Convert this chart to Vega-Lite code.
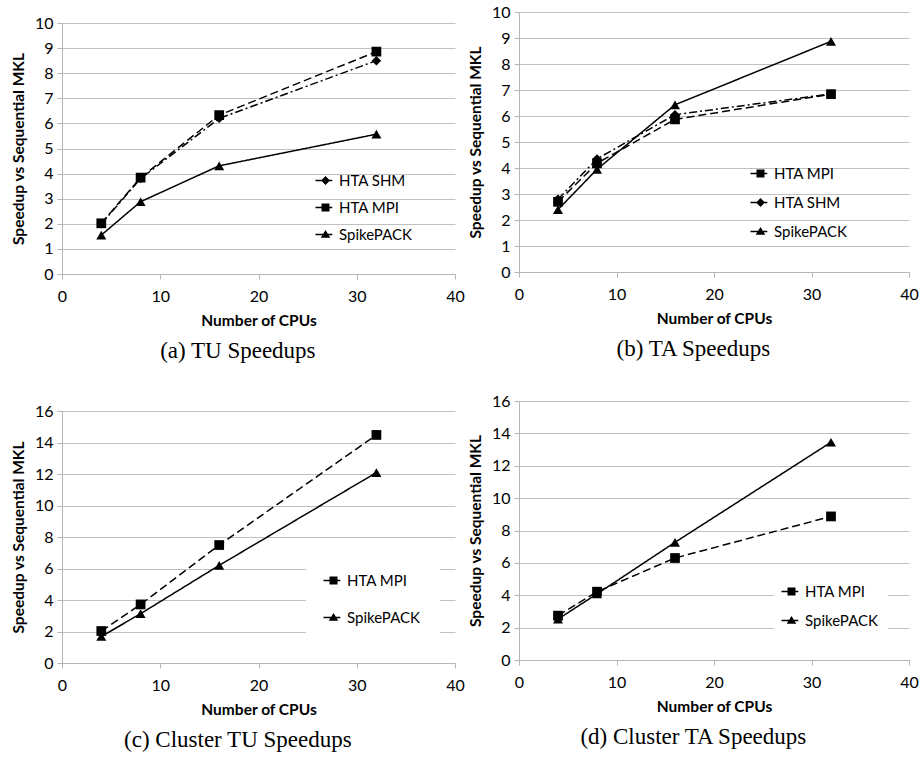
{
  "$schema": "https://vega.github.io/schema/vega-lite/v6.json",
  "padding": {"left": 11, "top": 4, "right": 0, "bottom": 0},
  "background": "white",
  "columns": 2,
  "spacing": {"column": 3, "row": 30},
  "concat": [
    {
      "width": 393, "height": 262,
      "title": {"text": "(a) TU Speedups"},
      "data": {"values": [
        {"series": "HTA SHM", "cpus": 4, "speedup": 2.0},
        {"series": "HTA SHM", "cpus": 8, "speedup": 3.8},
        {"series": "HTA SHM", "cpus": 16, "speedup": 6.2},
        {"series": "HTA SHM", "cpus": 32, "speedup": 8.5},
        {"series": "HTA MPI", "cpus": 4, "speedup": 2.02},
        {"series": "HTA MPI", "cpus": 8, "speedup": 3.84},
        {"series": "HTA MPI", "cpus": 16, "speedup": 6.33},
        {"series": "HTA MPI", "cpus": 32, "speedup": 8.86},
        {"series": "SpikePACK", "cpus": 4, "speedup": 1.55},
        {"series": "SpikePACK", "cpus": 8, "speedup": 2.88},
        {"series": "SpikePACK", "cpus": 16, "speedup": 4.31},
        {"series": "SpikePACK", "cpus": 32, "speedup": 5.57}
      ]},
      "encoding": {
        "x": {"field": "cpus", "type": "quantitative", "scale": {"domain": [0, 40]}, "axis": {"values": [0, 10, 20, 30, 40], "title": "Number of CPUs"}},
        "y": {"field": "speedup", "type": "quantitative", "scale": {"domain": [0, 10], "range": [262, 11]}, "axis": {"values": [0, 1, 2, 3, 4, 5, 6, 7, 8, 9, 10], "title": "Speedup vs Sequential MKL"}}
      },
      "layer": [
        {"mark": {"type": "line", "color": "black", "strokeWidth": 1.5},
         "encoding": {"strokeDash": {"field": "series", "type": "nominal", "scale": {"domain": ["HTA SHM", "HTA MPI", "SpikePACK"], "range": [[8, 3, 2, 3], [8, 4], [1, 0]]}, "legend": null}}},
        {"mark": {"type": "point", "filled": true, "color": "black", "opacity": 1},
         "encoding": {
           "shape": {"field": "series", "type": "nominal", "scale": {"domain": ["HTA SHM", "HTA MPI", "SpikePACK"], "range": ["diamond", "square", "triangle-up"]}, "legend": null},
           "size": {"field": "series", "type": "nominal", "scale": {"domain": ["HTA SHM", "HTA MPI", "SpikePACK"], "range": [90, 100, 110]}, "legend": null}}},
        {"transform": [{"filter": "false"}],
         "mark": {"type": "point", "filled": true, "color": "black"},
         "encoding": {
           "shape": {"field": "series", "type": "nominal", "scale": {"domain": ["HTA SHM", "HTA MPI", "SpikePACK"], "range": ["M-2.5,-0.18H1.7V0.18H-2.5ZM0,-1.1L1.1,0L0,1.1L-1.1,0Z", "M-2.5,-0.18H1.7V0.18H-2.5ZM-1,-1H1V1H-1Z", "M-2.5,-0.18H1.7V0.18H-2.5ZM0,-1.1L1.2,0.8H-1.2Z"]},
             "legend": {"legendX": 256, "legendY": 161, "padding": 0, "rowPadding": 11}}}}
      ],
      "resolve": {"scale": {"shape": "independent"}}
    },
    {
      "width": 390, "height": 260,
      "title": {"text": "(b) TA Speedups"},
      "data": {"values": [
        {"series": "HTA MPI", "cpus": 4, "speedup": 2.7},
        {"series": "HTA MPI", "cpus": 8, "speedup": 4.18},
        {"series": "HTA MPI", "cpus": 16, "speedup": 5.87},
        {"series": "HTA MPI", "cpus": 32, "speedup": 6.84},
        {"series": "HTA SHM", "cpus": 4, "speedup": 2.8},
        {"series": "HTA SHM", "cpus": 8, "speedup": 4.35},
        {"series": "HTA SHM", "cpus": 16, "speedup": 6.05},
        {"series": "HTA SHM", "cpus": 32, "speedup": 6.85},
        {"series": "SpikePACK", "cpus": 4, "speedup": 2.4},
        {"series": "SpikePACK", "cpus": 8, "speedup": 3.95},
        {"series": "SpikePACK", "cpus": 16, "speedup": 6.43},
        {"series": "SpikePACK", "cpus": 32, "speedup": 8.87}
      ]},
      "encoding": {
        "x": {"field": "cpus", "type": "quantitative", "scale": {"domain": [0, 40]}, "axis": {"values": [0, 10, 20, 30, 40], "title": "Number of CPUs"}},
        "y": {"field": "speedup", "type": "quantitative", "scale": {"domain": [0, 10]}, "axis": {"values": [0, 1, 2, 3, 4, 5, 6, 7, 8, 9, 10], "title": "Speedup vs Sequential MKL"}}
      },
      "layer": [
        {"mark": {"type": "line", "color": "black", "strokeWidth": 1.5},
         "encoding": {"strokeDash": {"field": "series", "type": "nominal", "scale": {"domain": ["HTA MPI", "HTA SHM", "SpikePACK"], "range": [[8, 4], [8, 3, 2, 3], [1, 0]]}, "legend": null}}},
        {"mark": {"type": "point", "filled": true, "color": "black", "opacity": 1},
         "encoding": {
           "shape": {"field": "series", "type": "nominal", "scale": {"domain": ["HTA MPI", "HTA SHM", "SpikePACK"], "range": ["square", "diamond", "triangle-up"]}, "legend": null},
           "size": {"field": "series", "type": "nominal", "scale": {"domain": ["HTA MPI", "HTA SHM", "SpikePACK"], "range": [100, 90, 110]}, "legend": null}}},
        {"transform": [{"filter": "false"}],
         "mark": {"type": "point", "filled": true, "color": "black"},
         "encoding": {
           "shape": {"field": "series", "type": "nominal", "scale": {"domain": ["HTA MPI", "HTA SHM", "SpikePACK"], "range": ["M-2.5,-0.18H1.7V0.18H-2.5ZM-1,-1H1V1H-1Z", "M-2.5,-0.18H1.7V0.18H-2.5ZM0,-1.1L1.1,0L0,1.1L-1.1,0Z", "M-2.5,-0.18H1.7V0.18H-2.5ZM0,-1.1L1.2,0.8H-1.2Z"]},
             "legend": {"legendX": 234, "legendY": 154, "padding": 0, "rowPadding": 13}}}}
      ],
      "resolve": {"scale": {"shape": "independent"}}
    },
    {
      "width": 393, "height": 262,
      "title": {"text": "(c) Cluster TU Speedups"},
      "data": {"values": [
        {"series": "HTA MPI", "cpus": 4, "speedup": 2.03},
        {"series": "HTA MPI", "cpus": 8, "speedup": 3.72},
        {"series": "HTA MPI", "cpus": 16, "speedup": 7.49},
        {"series": "HTA MPI", "cpus": 32, "speedup": 14.48},
        {"series": "SpikePACK", "cpus": 4, "speedup": 1.68},
        {"series": "SpikePACK", "cpus": 8, "speedup": 3.13},
        {"series": "SpikePACK", "cpus": 16, "speedup": 6.2},
        {"series": "SpikePACK", "cpus": 32, "speedup": 12.09}
      ]},
      "encoding": {
        "x": {"field": "cpus", "type": "quantitative", "scale": {"domain": [0, 40]}, "axis": {"values": [0, 10, 20, 30, 40], "title": "Number of CPUs"}},
        "y": {"field": "speedup", "type": "quantitative", "scale": {"domain": [0, 16], "range": [262, 10]}, "axis": {"values": [0, 2, 4, 6, 8, 10, 12, 14, 16], "title": "Speedup vs Sequential MKL"}}
      },
      "layer": [
        {"mark": {"type": "line", "color": "black", "strokeWidth": 1.5},
         "encoding": {"strokeDash": {"field": "series", "type": "nominal", "scale": {"domain": ["HTA MPI", "SpikePACK"], "range": [[8, 4], [1, 0]]}, "legend": null}}},
        {"mark": {"type": "point", "filled": true, "color": "black", "opacity": 1},
         "encoding": {
           "shape": {"field": "series", "type": "nominal", "scale": {"domain": ["HTA MPI", "SpikePACK"], "range": ["square", "triangle-up"]}, "legend": null},
           "size": {"field": "series", "type": "nominal", "scale": {"domain": ["HTA MPI", "SpikePACK"], "range": [100, 110]}, "legend": null}}},
        {"transform": [{"filter": "false"}],
         "mark": {"type": "point", "filled": true, "color": "black"},
         "encoding": {
           "shape": {"field": "series", "type": "nominal", "scale": {"domain": ["HTA MPI", "SpikePACK"], "range": ["M-2.5,-0.18H1.7V0.18H-2.5ZM-1,-1H1V1H-1Z", "M-2.5,-0.18H1.7V0.18H-2.5ZM0,-1.1L1.2,0.8H-1.2Z"]},
             "legend": {"legendX": 244, "legendY": 152, "padding": 20, "rowPadding": 21, "fillColor": "white"}}}}
      ],
      "resolve": {"scale": {"shape": "independent"}}
    },
    {
      "width": 390, "height": 259,
      "title": {"text": "(d) Cluster TA Speedups"},
      "data": {"values": [
        {"series": "HTA MPI", "cpus": 4, "speedup": 2.74},
        {"series": "HTA MPI", "cpus": 8, "speedup": 4.22},
        {"series": "HTA MPI", "cpus": 16, "speedup": 6.3},
        {"series": "HTA MPI", "cpus": 32, "speedup": 8.87},
        {"series": "SpikePACK", "cpus": 4, "speedup": 2.53},
        {"series": "SpikePACK", "cpus": 8, "speedup": 4.08},
        {"series": "SpikePACK", "cpus": 16, "speedup": 7.27},
        {"series": "SpikePACK", "cpus": 32, "speedup": 13.45}
      ]},
      "encoding": {
        "x": {"field": "cpus", "type": "quantitative", "scale": {"domain": [0, 40]}, "axis": {"values": [0, 10, 20, 30, 40], "title": "Number of CPUs"}},
        "y": {"field": "speedup", "type": "quantitative", "scale": {"domain": [0, 16]}, "axis": {"values": [0, 2, 4, 6, 8, 10, 12, 14, 16], "title": "Speedup vs Sequential MKL"}}
      },
      "layer": [
        {"mark": {"type": "line", "color": "black", "strokeWidth": 1.5},
         "encoding": {"strokeDash": {"field": "series", "type": "nominal", "scale": {"domain": ["HTA MPI", "SpikePACK"], "range": [[8, 4], [1, 0]]}, "legend": null}}},
        {"mark": {"type": "point", "filled": true, "color": "black", "opacity": 1},
         "encoding": {
           "shape": {"field": "series", "type": "nominal", "scale": {"domain": ["HTA MPI", "SpikePACK"], "range": ["square", "triangle-up"]}, "legend": null},
           "size": {"field": "series", "type": "nominal", "scale": {"domain": ["HTA MPI", "SpikePACK"], "range": [100, 110]}, "legend": null}}},
        {"transform": [{"filter": "false"}],
         "mark": {"type": "point", "filled": true, "color": "black"},
         "encoding": {
           "shape": {"field": "series", "type": "nominal", "scale": {"domain": ["HTA MPI", "SpikePACK"], "range": ["M-2.5,-0.18H1.7V0.18H-2.5ZM-1,-1H1V1H-1Z", "M-2.5,-0.18H1.7V0.18H-2.5ZM0,-1.1L1.2,0.8H-1.2Z"]},
             "legend": {"legendX": 255, "legendY": 173, "padding": 10, "rowPadding": 13, "fillColor": "white"}}}}
      ],
      "resolve": {"scale": {"shape": "independent"}}
    }
  ],
  "config": {
    "view": {"stroke": null},
    "axis": {"labelFont": "Lato", "labelFontSize": 16, "labelColor": "#000", "titleFont": "Lato", "titleFontSize": 15.5, "titleFontWeight": "bold", "titleColor": "#000", "domainColor": "#b5b5b5", "tickColor": "#b5b5b5", "gridColor": "#c0c0c0", "tickSize": 5, "labelFlush": false, "labelOverlap": false},
    "axisX": {"grid": false, "labelPadding": 9, "titlePadding": 9},
    "axisY": {"grid": true, "labelPadding": 4, "titlePadding": 8},
    "legend": {"orient": "none", "title": null, "symbolSize": 64, "labelFont": "Lato", "labelFontSize": 15, "labelColor": "#000", "labelOffset": 6, "symbolFillColor": "#000", "symbolStrokeWidth": 0, "symbolOpacity": 1},
    "title": {"font": "Liberation Serif", "fontSize": 23, "fontWeight": "normal", "color": "#000", "orient": "bottom", "frame": "bounds", "anchor": "middle", "offset": 11}
  }
}
